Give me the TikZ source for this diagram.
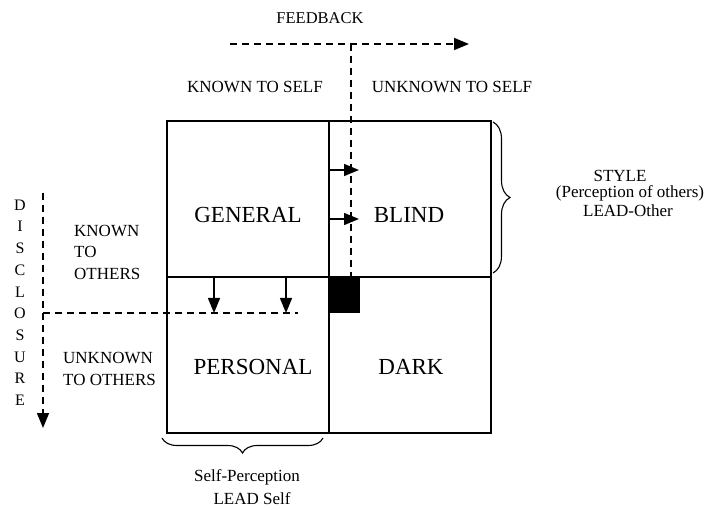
\documentclass[tikz,border=0pt]{standalone}
\usepackage{fontspec}
\setmainfont{Liberation Serif}
\usetikzlibrary{arrows.meta,decorations.pathreplacing}

\tikzset{
  quad/.style={font=\fontsize{23}{27}\selectfont, inner sep=0pt},
  lbl/.style={font=\fontsize{17}{21.5}\selectfont, inner sep=0pt},
  letter/.style={font=\fontsize{16}{19}\selectfont, inner sep=0pt},
  dashline/.style={dash pattern=on 7pt off 5pt, line width=1.5pt},
  tip/.style={-{Triangle[length=15pt,width=12pt]}},
  wall/.style={line width=1.7pt},
  brc/.style={decorate, decoration={brace, amplitude=#1}, line width=1.1pt},
}

\begin{document}
\begin{tikzpicture}[x=1pt,y=-1pt]
            \useasboundingbox (0,0) rectangle (714,510);
            % window grid
            \draw[wall] (167,121) rectangle (491,433);
            \draw[wall] (329,121) -- (329,433);
            \draw[wall] (167,277) -- (491,277);
            \node[quad] (general) at (248,215) {GENERAL};
            \node[quad] (blind) at (409,215) {BLIND};
            \node[quad] (personal) at (253,367) {PERSONAL};
            \node[quad] (dark) at (411,367) {DARK};

            % feedback
            \node[lbl, font=\fontsize{16.5}{20}\selectfont] (feedback) at (320,18) {FEEDBACK};
            \coordinate (fbA) at (230,44);
            \coordinate (fbB) at (469,44);
            \coordinate (fbM) at (351,44);
            \coordinate (fbD) at (351,277);
            \draw[dashline, tip] (fbA) -- (fbB);
            \draw[dashline] (fbM) -- (fbD);
            \node[lbl] (kself) at (255,87) {KNOWN TO SELF};
            \node[lbl] (uself) at (452,87) {UNKNOWN TO SELF};

            % disclosure
            \coordinate (dsA) at (43,193);
            \coordinate (dsB) at (43,428);
            \draw[dashline, tip] (dsA) -- (dsB);
            \foreach \ch [count=\i from 0] in {D,I,S,C,L,O,S,U,R,E}
                \node[letter] (ds\i) at (20,{205+21.7*\i}) {\ch};
            \coordinate (hzA) at (43,313);
            \coordinate (hzB) at (298,313);
            \draw[dashline] (hzA) -- (hzB);
            \node[lbl, anchor=west, align=left] (kothers) at (74,252) {KNOWN\\TO\\OTHERS};
            \node[lbl, anchor=west, align=left] (uothers) at (63,369) {UNKNOWN\\TO OTHERS};

            % small arrows and the square
            \coordinate (ra1) at (329,170);
            \coordinate (rb1) at (359,170);
            \coordinate (ra2) at (329,219);
            \coordinate (rb2) at (359,219);
            \draw[line width=1.4pt, tip] (ra1) -- (rb1);
            \draw[line width=1.4pt, tip] (ra2) -- (rb2);
            \coordinate (da1) at (214,277);
            \coordinate (db1) at (214,313);
            \coordinate (da2) at (286,277);
            \coordinate (db2) at (286,313);
            \draw[line width=1.4pt, tip] (da1) -- (db1);
            \draw[line width=1.4pt, tip] (da2) -- (db2);
            \fill (329,277) rectangle (360,313);

            % braces
            \draw[brc=17pt] (493,122) -- (493,273);
            \node[lbl] (style) at (620,176) {STYLE};
            \node[lbl] (percep) at (630,193) {(Perception of others)};
            \node[lbl] (leadother) at (628,211) {LEAD-Other};
            \draw[brc=15pt] (323,438) -- (162,438);
            \node[lbl] (selfp) at (247,477) {Self-Perception};
            \node[lbl] (leadself) at (252,499) {LEAD Self};
        \end{tikzpicture}
\end{document}
